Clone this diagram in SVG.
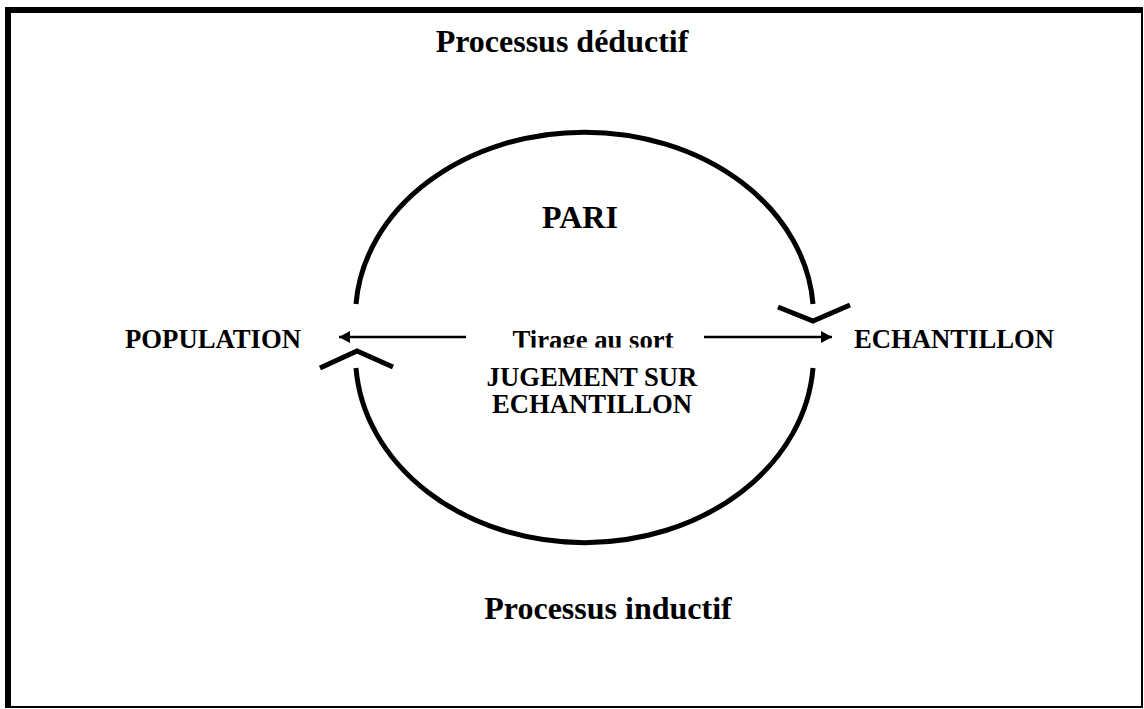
<svg xmlns="http://www.w3.org/2000/svg" width="1144" height="709" viewBox="0 0 1144 709">
<style>
text{font-family:"Liberation Serif","Times New Roman",serif;font-weight:bold;fill:#000;text-anchor:middle}
.arc{fill:none;stroke:#000;stroke-width:5}
.conn{fill:none;stroke:#000;stroke-width:2.5}
.t32{font-size:32px}
.t27{font-size:26.7px}
</style>
<defs>
<marker id="ah" markerUnits="userSpaceOnUse" markerWidth="12" markerHeight="14" refX="11" refY="7" orient="auto">
<path d="M0,1 L11,7 L0,13 Z" fill="#000"/>
</marker>
<clipPath id="clipT"><rect x="480" y="300" width="230" height="47.5"/></clipPath>
</defs>
<rect x="0" y="0" width="1144" height="709" fill="#fff"/>
<g id="frame">
<rect x="8" y="10" width="1134" height="697" fill="none" stroke="#000" stroke-width="2"/>
<line x1="8" y1="7" x2="8" y2="708" stroke="#000" stroke-width="6"/>
<line x1="5" y1="10" x2="1143" y2="10" stroke="#000" stroke-width="6"/>
</g>
<g id="title-top"><text class="t32" x="562" y="52">Processus déductif</text></g>
<g id="title-bottom"><text class="t32" x="608" y="619">Processus inductif</text></g>
<g id="pari"><text class="t32" x="580" y="228">PARI</text></g>
<g id="population"><text class="t27" x="213" y="348">POPULATION</text></g>
<g id="echantillon"><text class="t27" x="954" y="348">ECHANTILLON</text></g>
<g id="tirage"><text class="t27" x="593" y="349" clip-path="url(#clipT)">Tirage au sort</text></g>
<g id="jugement"><text class="t27" x="592" y="386">JUGEMENT SUR</text><text class="t27" x="592" y="413">ECHANTILLON</text></g>
<g id="connectors">
<path class="arc" d="M356,304 A229,184 0 0 1 813,304"/>
<path class="arc" d="M356,368 A229,187 0 0 0 813,368"/>
<polyline class="arc" points="320,368 357,351 393,367"/>
<polyline class="arc" points="778,307 813,321 850,305"/>
<line class="conn" x1="466" y1="337" x2="339" y2="337" marker-end="url(#ah)"/>
<line class="conn" x1="704" y1="337" x2="832" y2="337" marker-end="url(#ah)"/>
</g>
</svg>
